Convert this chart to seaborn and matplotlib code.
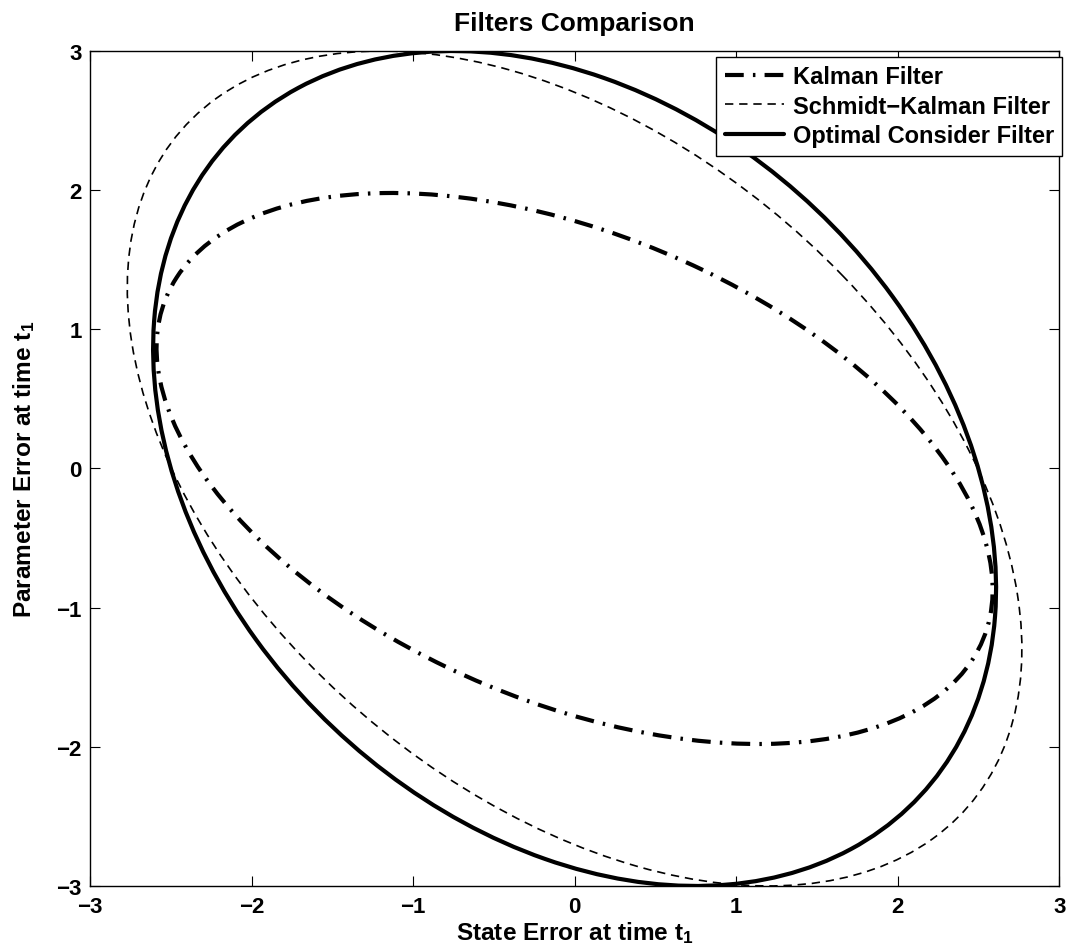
import numpy as np
import seaborn as sns
import matplotlib
matplotlib.use("Agg")
import matplotlib.pyplot as plt
from matplotlib.patches import Ellipse
from matplotlib.lines import Line2D

# 1-sigma error ellipses (covariance entries)
filters = ['Kalman Filter', 'Schmidt\u2212Kalman Filter', 'Optimal Consider Filter']
var_x = [6.70, 7.67, 6.81]
cov_xy = [-2.25, -3.60, -2.25]
var_y = [3.92, 9.00, 9.00]

x_ticks = [-3, -2, -1, 0, 1, 2, 3]
y_ticks = [-3, -2, -1, 0, 1, 2, 3]

sns.set_style("ticks")
plt.rcParams['font.family'] = ['Liberation Sans', 'DejaVu Sans']
plt.rcParams['font.weight'] = 'bold'
plt.rcParams['mathtext.fontset'] = 'custom'
plt.rcParams['mathtext.rm'] = 'Liberation Sans:bold'
plt.rcParams['mathtext.bf'] = 'Liberation Sans:bold'
plt.rcParams['mathtext.it'] = 'Liberation Sans:bold'
for k in ['text.color', 'axes.labelcolor', 'xtick.color', 'ytick.color', 'axes.edgecolor']:
    plt.rcParams[k] = 'black'

estilos = [
    dict(lw=3.0, ls=(0, (4.5, 2.2, 0.6, 2.2))),
    dict(lw=1.2, ls=(0, (5, 3.5))),
    dict(lw=3.0, ls='-'),
]

fig = plt.figure(figsize=(10.72, 9.53), dpi=100)
ax = fig.add_axes([0.084, 0.0693, 0.904, 0.8761])

handles = []
for nombre, a, b, c, st in zip(filters, var_x, cov_xy, var_y, estilos):
    P = np.array([[a, b], [b, c]])
    vals, vecs = np.linalg.eigh(P)
    ang = np.degrees(np.arctan2(vecs[1, 1], vecs[0, 1]))
    e = Ellipse((0, 0), 2 * np.sqrt(vals[1]), 2 * np.sqrt(vals[0]), angle=ang,
                fill=False, edgecolor='black', lw=st['lw'], linestyle=st['ls'])
    ax.add_patch(e)
    handles.append(Line2D([], [], color='black', lw=st['lw'], linestyle=st['ls'], label=nombre))

ax.set_xlim(-3, 3)
ax.set_ylim(-3, 3)
ax.set_xticks(x_ticks)
ax.set_yticks(y_ticks)
ax.tick_params(direction='in', length=7, width=0.8, top=True, right=True,
               labelsize=16)
ax.tick_params(axis='x', pad=7)
ax.tick_params(axis='y', pad=6)
for s in ax.spines.values():
    s.set_linewidth(1.0)

ax.set_title('Filters Comparison', fontsize=19, fontweight='bold', pad=15)
ax.set_xlabel(r'State Error at time $\mathbf{t_1}$', fontsize=17.6, fontweight='bold', labelpad=1.5)
ax.set_ylabel(r'Parameter Error at time $\mathbf{t_1}$', fontsize=17.6, fontweight='bold', labelpad=14)

leg = ax.legend(handles=handles, loc='upper right', bbox_to_anchor=(1.003, 0.993),
                fontsize=17, handlelength=2.5, frameon=True, fancybox=False,
                borderaxespad=0, labelspacing=0.28, handletextpad=0.38, borderpad=0.35)
leg.get_frame().set_edgecolor('black')
leg.get_frame().set_linewidth(1.0)
leg.get_frame().set_alpha(1)

fig.savefig('out.png', dpi=100, facecolor='white')
